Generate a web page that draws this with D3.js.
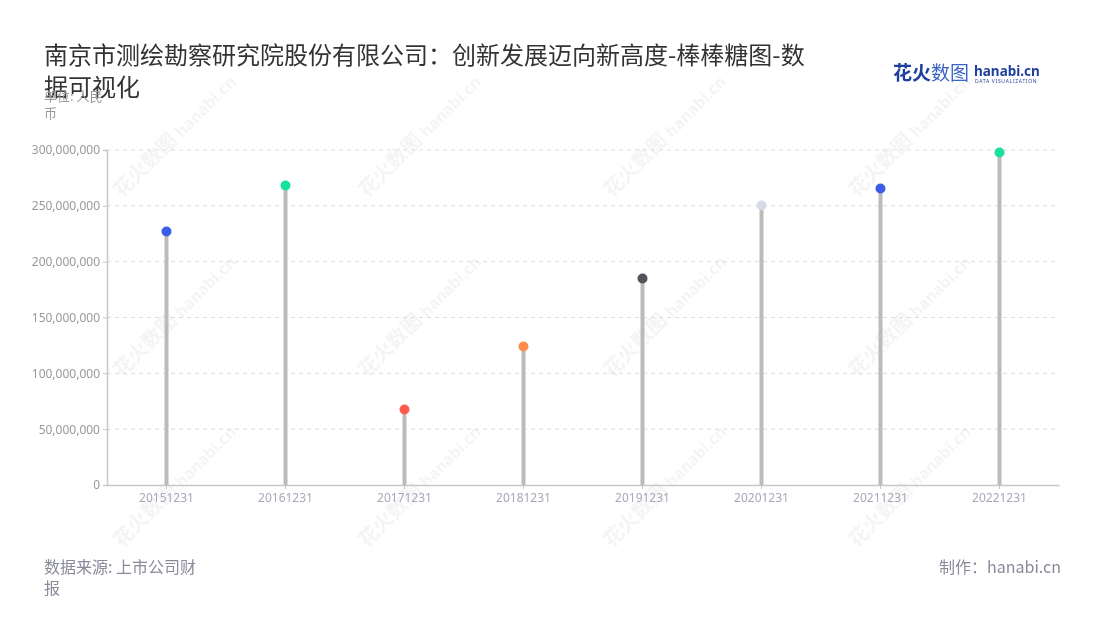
<!DOCTYPE html>
<html><head><meta charset="utf-8">
<script src="https://cdn.jsdelivr.net/npm/d3@7"></script>
<style>body{margin:0;background:#fff;font-family:"Noto Sans CJK SC","Noto Sans",sans-serif}</style>
</head><body><svg id="c" width="1100" height="620"></svg>
<script>
const categories = ["20151231","20161231","20171231","20181231","20191231","20201231","20211231","20221231"];
const values = [227000000, 268200000, 67600000, 124000000, 184900000, 250300000, 265500000, 297800000];
const dotColors = ["#3b5de7","#19e0a0","#ff5a4e","#ff8c4c","#555359","#d7dbe8","#3b5de7","#19e0a0"];
const yTicks = [0,50000000,100000000,150000000,200000000,250000000,300000000];

const svg = d3.select("#c");
const m = {l:107, r:1059, t:150, b:485};
const x = d3.scaleBand().domain(categories).range([m.l, m.r]).padding(0);
const y = d3.scaleLinear().domain([0,300000000]).range([m.b, m.t]);

// watermarks
const wm = svg.append("g").attr("opacity",0.55);
[[150,170],[395,170],[640,170],[885,170],[150,350],[395,350],[640,350],[885,350],[150,520],[395,520],[640,520],[885,520]].forEach(([cx,cy])=>{
  const g = wm.append("g").attr("transform",`translate(${cx},${cy}) rotate(-45)`);
  g.append("text").attr("x",-40).attr("y",0).attr("font-size",20).attr("font-weight","bold").attr("fill","#ececec").text("花火数图");
  g.append("text").attr("x",45).attr("y",0).attr("font-size",16).attr("font-weight","bold").attr("fill","#ececec").attr("font-family","Noto Sans").text("hanabi.cn");
});

// grid
svg.append("g").selectAll("line").data(yTicks.slice(1)).join("line")
  .attr("x1",m.l).attr("x2",m.r).attr("y1",d=>y(d)).attr("y2",d=>y(d))
  .attr("stroke","#dcdcdc").attr("stroke-dasharray","4,4");

// y axis
const ya = svg.append("g").attr("transform",`translate(${m.l},0)`)
  .call(d3.axisLeft(y).tickValues(yTicks).tickSize(4).tickPadding(3).tickFormat(d3.format(",")));
ya.select(".domain").attr("stroke","#c8c8c8").attr("stroke-width",1.5);
ya.selectAll(".tick line").attr("stroke","#c8c8c8");
ya.selectAll("text").attr("fill","#999").attr("font-size",12).attr("font-family","Noto Sans");

// x axis
const xa = svg.append("g").attr("transform",`translate(0,${m.b})`)
  .call(d3.axisBottom(x).tickSize(4).tickPadding(4).tickSizeOuter(0));
xa.select(".domain").attr("stroke","#c8c8c8").attr("stroke-width",1.5);
xa.selectAll(".tick line").attr("stroke","#c8c8c8");
xa.selectAll("text").attr("fill","#a5a9b8").attr("font-size",12).attr("font-family","Noto Sans");

// stems
svg.append("g").selectAll("line").data(categories).join("line")
  .attr("x1",d=>x(d)+x.bandwidth()/2).attr("x2",d=>x(d)+x.bandwidth()/2)
  .attr("y1",y(0)).attr("y2",(d,i)=>y(values[i]))
  .attr("stroke","#bbbbbb").attr("stroke-width",4);
// dots
svg.append("g").selectAll("circle").data(categories).join("circle")
  .attr("cx",d=>x(d)+x.bandwidth()/2).attr("cy",(d,i)=>y(values[i])).attr("r",5)
  .attr("fill",(d,i)=>dotColors[i]);

// title
const t = svg.append("text").attr("x",44).attr("font-size",24).attr("fill","#333");
t.append("tspan").attr("x",44).attr("y",64).text("南京市测绘勘察研究院股份有限公司：创新发展迈向新高度-棒棒糖图-数");
t.append("tspan").attr("x",44).attr("y",96).text("据可视化");

// unit
const u = svg.append("text").attr("font-size",13).attr("fill","#999");
u.append("tspan").attr("x",44).attr("y",101).text("单位: 人民");
u.append("tspan").attr("x",44).attr("y",118).text("币");

// logo
const lg = svg.append("g");
lg.append("text").attr("x",893).attr("y",80).attr("font-size",19).attr("font-weight","bold").attr("fill","#1f3f9e").text("花火");
lg.append("text").attr("x",931).attr("y",80).attr("font-size",19).attr("fill","#3a63c8").text("数图");
lg.append("text").attr("x",974).attr("y",76).attr("font-size",13.5).attr("font-weight","bold").attr("fill","#1f3f9e").attr("font-family","Noto Sans").text("hanabi.cn");
lg.append("text").attr("x",975).attr("y",83).attr("font-size",5).attr("fill","#1f3f9e").attr("font-family","Noto Sans").attr("letter-spacing",0.7).text("DATA VISUALIZATION");

// footer
const f = svg.append("text").attr("font-size",16).attr("fill","#888a99");
f.append("tspan").attr("x",44).attr("y",573).text("数据来源: 上市公司财");
f.append("tspan").attr("x",44).attr("y",594).text("报");
svg.append("text").attr("x",1061).attr("y",573).attr("text-anchor","end").attr("font-size",16).attr("fill","#888a99").text("制作：hanabi.cn");
</script></body></html>
